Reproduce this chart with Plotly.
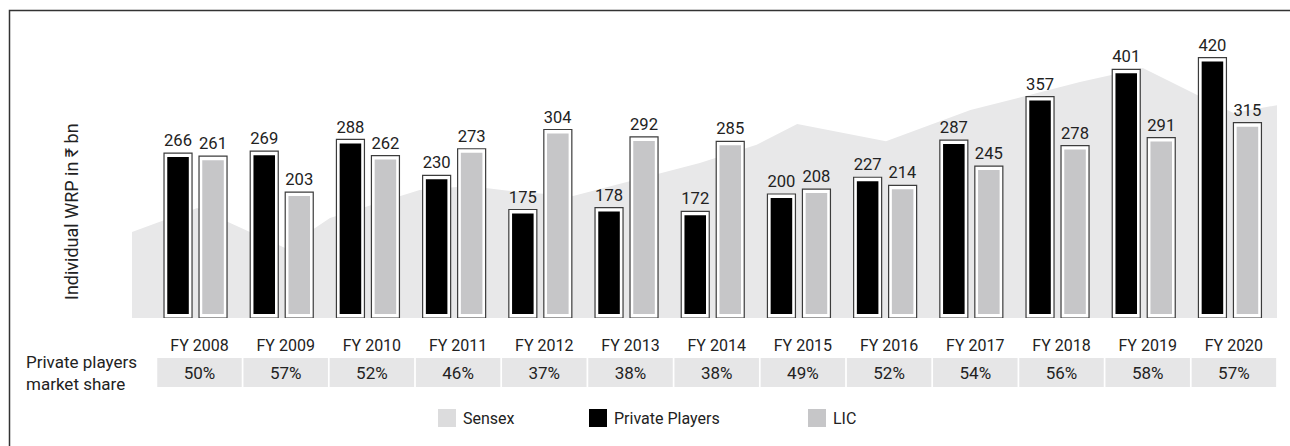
import plotly.graph_objects as go

# ---------------- data ----------------
years = list(range(2008, 2021))
fy_labels = [f"FY {y}" for y in years]
private_players = [266, 269, 288, 230, 175, 178, 172, 200, 227, 287, 357, 401, 420]
lic = [261, 203, 262, 273, 304, 292, 285, 208, 214, 245, 278, 291, 315]
private_share = ["50%", "57%", "52%", "46%", "37%", "38%", "38%", "49%", "52%", "54%", "56%", "58%", "57%"]

# Sensex (background area), time in fiscal-year units
sensex_fy = [2007.263, 2008.02, 2009.04, 2009.56, 2010.60, 2011.18, 2011.76, 2012.38,
             2013.85, 2014.51, 2014.98, 2016.01, 2016.99, 2018.26, 2018.99, 2020.04, 2020.546]
sensex_val = [14100, 18050, 11500, 16400, 21000, 21650, 20650, 20000,
              25400, 28400, 31800, 29000, 34100, 38700, 41000, 33600, 34900]

# ---------------- layout geometry ----------------
W, H = 1290, 446
ML, MR, MT, MB = 132, 13, 30, 54
PW, PH = W - ML - MR, H - MT - MB


def px2x(px):
    return (px - ML) / PW


def px2y(py):
    return (H - MB - py) / PH


main_dom = [px2y(318), 1.0]
table_dom = [px2y(387), px2y(358)]

FONT = "Roboto"
TXT = "#222222"
BLACK = "#000000"
LIC_C = "#c6c6c8"
SENSEX_C = "#e8e8e9"
OUTLINE = "#3c3c3c"

OUT_W = 0.325
IN_W = 0.25
OFF = 0.203
GAP = 6.4  # white gap (value units) inside the outlined bars
LBL_SHIFT = 0.046

fig = go.Figure()

# Sensex area (base y axis, drawn beneath)
fig.add_trace(go.Scatter(
    x=sensex_fy, y=sensex_val, mode="lines", fill="tozeroy",
    fillcolor=SENSEX_C, line=dict(width=0, color=SENSEX_C),
    name="Sensex", showlegend=False, hoverinfo="skip", yaxis="y", xaxis="x"))

# Outer outlined bars with value labels
fig.add_trace(go.Bar(
    x=years, y=private_players, width=OUT_W, offset=-OFF - OUT_W / 2,
    marker=dict(color="white", line=dict(color=OUTLINE, width=1.2)),
    text=[str(v) for v in private_players], textposition="outside",
    textfont=dict(family=FONT, size=17, color=TXT), cliponaxis=False,
    showlegend=False, yaxis="y2", hoverinfo="skip"))
fig.add_trace(go.Bar(
    x=years, y=lic, width=OUT_W, offset=OFF - OUT_W / 2,
    marker=dict(color="white", line=dict(color=OUTLINE, width=1.2)),
    text=[str(v) for v in lic], textposition="outside",
    textfont=dict(family=FONT, size=17, color=TXT), cliponaxis=False,
    showlegend=False, yaxis="y2", hoverinfo="skip"))

# Inner filled bars
fig.add_trace(go.Bar(
    x=years, y=[v - 2 * GAP for v in private_players], base=GAP,
    width=IN_W, offset=-OFF - IN_W / 2,
    marker=dict(color=BLACK, line=dict(width=0)),
    name="Private Players", showlegend=False, yaxis="y2"))
fig.add_trace(go.Bar(
    x=years, y=[v - 2 * GAP for v in lic], base=GAP,
    width=IN_W, offset=OFF - IN_W / 2,
    marker=dict(color=LIC_C, line=dict(width=0)),
    name="LIC", showlegend=False, yaxis="y2"))

# Market share table cells
fig.add_trace(go.Bar(
    x=years, y=[1] * len(years), width=0.98, offset=-0.49 + LBL_SHIFT,
    marker=dict(color="#e6e6e7", line=dict(width=0)),
    text=private_share, textposition="inside", insidetextanchor="middle",
    textfont=dict(family=FONT, size=17, color=TXT),
    showlegend=False, yaxis="y3", hoverinfo="skip"))

fig.update_layout(
    width=W, height=H,
    margin=dict(l=ML, r=MR, t=MT, b=MB),
    paper_bgcolor="white", plot_bgcolor="white",
    barmode="overlay", showlegend=False,
    font=dict(family=FONT, color=TXT),
    xaxis=dict(range=[2007.263, 2020.546], tickvals=[y + LBL_SHIFT for y in years],
               ticktext=fy_labels, ticks="outside", ticklen=13,
               tickcolor="rgba(0,0,0,0)", showgrid=False, zeroline=False,
               showline=False, tickfont=dict(family=FONT, size=16, color=TXT),
               anchor="y", fixedrange=True),
    yaxis=dict(domain=main_dom, range=[0, 47232], visible=False, fixedrange=True),
    yaxis2=dict(domain=main_dom, range=[0, 464.5], overlaying="y", visible=False,
                fixedrange=True),
    yaxis3=dict(domain=table_dom, range=[0, 1], visible=False, anchor="x",
                fixedrange=True),
)

# Outer frame (clipped on right/bottom as in the source)
fig.add_shape(type="rect", xref="paper", yref="paper",
              x0=px2x(9.5), x1=px2x(1300), y0=px2y(460), y1=px2y(10.5),
              line=dict(color="#333333", width=1.5), fillcolor="rgba(0,0,0,0)",
              layer="above")

# Axis title
fig.add_annotation(text="Individual WRP in ₹ bn", xref="paper", yref="paper",
                   x=px2x(72), y=px2y(212), textangle=-90, showarrow=False,
                   font=dict(family=FONT, size=18, color=TXT),
                   xanchor="center", yanchor="middle")

# Table row label
fig.add_annotation(text="Private players<br>market share", xref="paper", yref="paper",
                   x=px2x(24), y=px2y(372.5), showarrow=False, align="left",
                   font=dict(family=FONT, size=17, color=TXT),
                   xanchor="left", yanchor="middle")

# Legend (manual, to match swatch size and spacing)
legend_items = [("Sensex", "#dcdcdd", 438), ("Private Players", BLACK, 589), ("LIC", LIC_C, 808)]
for label, color, sx in legend_items:
    fig.add_shape(type="rect", xref="paper", yref="paper",
                  x0=px2x(sx), x1=px2x(sx + 18), y0=px2y(427), y1=px2y(409),
                  fillcolor=color, line=dict(width=0))
    fig.add_annotation(text=label, xref="paper", yref="paper",
                       x=px2x(sx + 23), y=px2y(418.5), showarrow=False,
                       font=dict(family=FONT, size=16, color=TXT),
                       xanchor="left", yanchor="middle")

fig.write_html("out.html", config={"displayModeBar": False},
               post_script="document.body.style.margin='0';document.body.style.overflow='hidden';")
